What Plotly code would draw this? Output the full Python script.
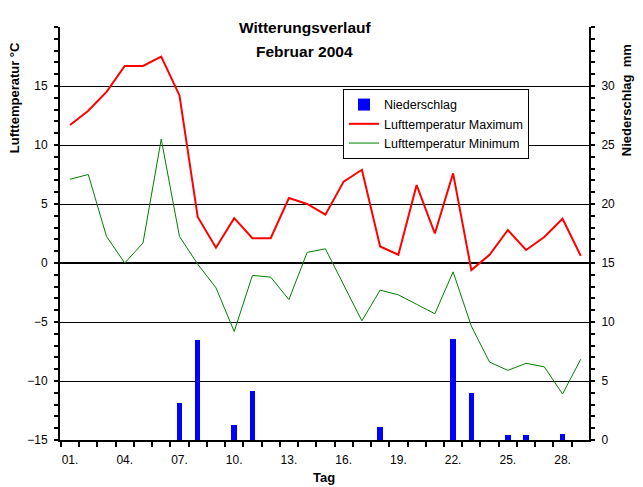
import plotly.graph_objects as go

days = list(range(1, 30))
t_max = [11.7, 12.9, 14.5, 16.7, 16.7, 17.5, 14.2, 3.9, 1.3, 3.8, 2.1, 2.1, 5.5, 5.0, 4.1,
         6.9, 7.9, 1.4, 0.7, 6.6, 2.5, 7.6, -0.6, 0.7, 2.8, 1.1, 2.2, 3.75, 0.6]
t_min = [7.1, 7.5, 2.25, 0.0, 1.7, 10.5, 2.25, -0.1, -2.1, -5.8, -1.05, -1.2, -3.1, 0.9, 1.2,
         -1.8, -4.9, -2.3, -2.7, -3.5, -4.3, -0.75, -5.35, -8.4, -9.1, -8.5, -8.8, -11.1, -8.15]
precip = [0, 0, 0, 0, 0, 0, 3.15, 8.45, 0, 1.27, 4.14, 0, 0, 0, 0,
          0, 0, 1.07, 0, 0, 0, 8.54, 3.97, 0, 0.42, 0.42, 0, 0.51, 0]

x_tickvals = [1, 4, 7, 10, 13, 16, 19, 22, 25, 28]
x_ticktext = ["01.", "04.", "07.", "10.", "13.", "16.", "19.", "22.", "25.", "28."]
temp_ticks = [-15, -10, -5, 0, 5, 10, 15]
precip_ticks = [0, 5, 10, 15, 20, 25, 30]

FONT = "Liberation Sans, Arial, sans-serif"

fig = go.Figure()
fig.add_trace(go.Bar(x=days, y=precip, name="Niederschlag", marker=dict(color="rgb(0,0,255)", line=dict(width=0)),
                     width=0.3, yaxis="y2"))
fig.add_trace(go.Scatter(x=days, y=t_max, name="Lufttemperatur Maximum", mode="lines",
                         line=dict(color="rgb(255,0,0)", width=2)))
fig.add_trace(go.Scatter(x=days, y=t_min, name="Lufttemperatur Minimum", mode="lines",
                         line=dict(color="rgb(0,128,0)", width=1)))

fig.update_layout(
    width=643, height=487,
    margin=dict(l=60, r=54, t=27, b=47, autoexpand=False),
    paper_bgcolor="white", plot_bgcolor="white",
    font=dict(family=FONT, size=12, color="black"),
    showlegend=True,
    legend=dict(x=0.535, y=0.85, xanchor="left", yanchor="top", bordercolor="black", borderwidth=1,
                bgcolor="white", font=dict(size=12.5), tracegroupgap=0, itemwidth=30),
    bargap=0,
    xaxis=dict(range=[0.45, 29.45], tickmode="array", tickvals=x_tickvals, ticktext=x_ticktext,
               ticks="", showgrid=False, zeroline=False, showline=True, linecolor="black", linewidth=2,
               ticklabelstandoff=8,
               minor=dict(tick0=0.5, dtick=1, ticks="outside", ticklen=5, tickcolor="black", tickwidth=2, showgrid=False)),
    yaxis=dict(range=[-15, 20], tickmode="array", tickvals=temp_ticks, ticks="outside", ticklen=4,
               tickcolor="black", tickwidth=2, showgrid=True, gridcolor="black", gridwidth=1,
               zeroline=True, zerolinecolor="black", zerolinewidth=2,
               showline=True, linecolor="black", linewidth=2, ticklabelstandoff=4,
               minor=dict(tick0=0, dtick=1, ticks="outside", ticklen=4, tickcolor="black", tickwidth=2, showgrid=False)),
    yaxis2=dict(range=[0, 35], overlaying="y", side="right", tickmode="array", tickvals=precip_ticks,
                ticks="outside", ticklen=4, tickcolor="black", tickwidth=2, showgrid=False, zeroline=False,
                showline=True, linecolor="black", linewidth=2, ticklabelstandoff=4,
                minor=dict(tick0=0, dtick=1, ticks="outside", ticklen=4, tickcolor="black", tickwidth=2, showgrid=False)),
    annotations=[
        dict(text="<b>Witterungsverlauf</b>", xref="paper", yref="paper", x=0.463, y=0.998,
             xanchor="center", yanchor="middle", showarrow=False, font=dict(size=15.5)),
        dict(text="<b>Februar 2004</b>", xref="paper", yref="paper", x=0.463, y=0.9395,
             xanchor="center", yanchor="middle", showarrow=False, font=dict(size=15.5)),
        dict(text="<b>Lufttemperatur °C</b>", xref="paper", yref="paper", x=-0.087, y=0.83,
             xanchor="center", yanchor="middle", showarrow=False, textangle=-90, font=dict(size=13)),
        dict(text="<b>Niederschlag  mm</b>", xref="paper", yref="paper", x=1.07, y=0.823,
             xanchor="center", yanchor="middle", showarrow=False, textangle=-90, font=dict(size=13)),
        dict(text="<b>Tag</b>", xref="paper", yref="paper", x=0.499, y=-0.092,
             xanchor="center", yanchor="middle", showarrow=False, font=dict(size=13)),
    ],
)

fig.write_html("out.html", config={"displayModeBar": False},
               post_script="document.body.style.margin='0';document.body.style.padding='0';")
